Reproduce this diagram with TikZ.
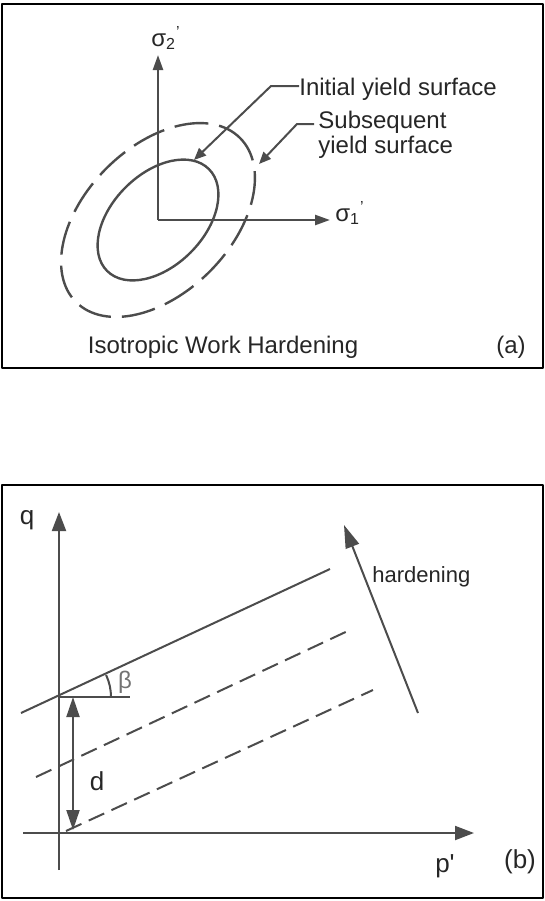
\documentclass[tikz,border=0pt]{standalone}
\usepackage{fontspec}
\setmainfont{Liberation Sans}
\usetikzlibrary{arrows.meta}

\begin{document}
\begin{tikzpicture}[x=0.5pt, y=-0.5pt, line join=round,
	every node/.style={inner sep=0pt, text=black!85, font=\fontsize{12}{12.5}\selectfont},
	frame/.style={draw=black, line width=1.4pt},
	ln/.style={draw=black!70, line width=1.2pt},
	thin/.style={draw=black!70, line width=1pt},
	ax/.style={ln, -{Triangle[length=7.5pt, width=5pt]}},
	lead/.style={ln, line width=1pt, -{Triangle[length=6pt, width=5pt]}},
	axb/.style={thin, -{Triangle[length=9.5pt, width=7pt]}},
	dsh/.style={thin, dash pattern=on 8.5pt off 4pt},
	big/.style={font=\fontsize{13}{15}\selectfont}]
	\useasboundingbox (0,0) rectangle (545,901);
	% (a)
	\draw[frame] (2,4) rectangle (543,368);
	\coordinate (O1) at (158,220);
	\coordinate (Y1) at (158,55);
	\coordinate (X1) at (330,220);
	\draw[ax] (O1) -- (Y1);
	\draw[ax] (O1) -- (X1);
	\node (S2) at (166,38) {σ\textsubscript{2}\textsuperscript{'}};
	\node (S1) at (350,213) {σ\textsubscript{1}\textsuperscript{'}};
	\draw[ln] (O1) ellipse [x radius=72, y radius=46, rotate=45];
	\draw[ln, dash pattern=on 17pt off 5.5pt, dash phase=4pt] (O1) ellipse [x radius=116, y radius=73, rotate=45];
	\node[anchor=west] (INIT) at (299,89) {Initial yield surface};
	\node[anchor=west, align=left] (SUBS) at (318,135) {Subsequent\\yield surface};
	\coordinate (I1) at (271,86);
	\coordinate (I2) at (194,160);
	\coordinate (U0) at (314,124);
	\coordinate (U1) at (297,124);
	\coordinate (U2) at (259,164);
	\draw[lead] (INIT.west |- I1) -- (I1) -- (I2);
	\draw[lead] (U0) -- (U1) -- (U2);
	\node (ISO) at (223,347) {Isotropic Work Hardening};
	\node (LA) at (511,347) {(a)};
	% (b)
	\draw[frame] (2,485) rectangle (543,898);
	\coordinate (O2) at (59,833);
	\coordinate (QB) at (59,870);
	\coordinate (QT) at (59,512);
	\coordinate (PL) at (23,833);
	\coordinate (PR) at (474,833);
	\draw[axb] (QB) -- (QT);
	\draw[axb] (PL) -- (PR);
	\node[big] (Q) at (27,520) {q};
	\node[big] (P) at (445,866) {p\textquotesingle};
	\node[big] (LB) at (520,862) {(b)};
	\coordinate (C0) at (59,697);
	\coordinate (C1) at (130,697);
	\draw[thin] (21,713) coordinate (L0) -- (330,569) coordinate (L1);
	\draw[thin] (C0) -- (C1);
	\draw[thin] ([xshift=26pt]C0) arc[start angle=0, end angle=-25, radius=52];
	\node[text=black!55] (B) at (125,682) {β};
	\coordinate (D0) at (73,697);
	\coordinate (D1) at (73,830);
	\draw[thin, {Triangle[length=10pt, width=6.5pt]}-{Triangle[length=10pt, width=6.5pt]}] (D0) -- (D1);
	\node[big] (D) at (97,781) {d};
	\draw[dsh] (36,777) coordinate (E0) -- (352,629) coordinate (E1);
	\draw[dsh] (66,831) coordinate (F0) -- (373,690) coordinate (F1);
	\coordinate (H0) at (418,713);
	\coordinate (H1) at (344,525);
	\draw[thin, -{Triangle[length=11.5pt, width=7pt]}] (H0) -- (H1);
	\node[anchor=west, font=\fontsize{11}{13}\selectfont] (HARD) at (372,577) {hardening};
\end{tikzpicture}
\end{document}
